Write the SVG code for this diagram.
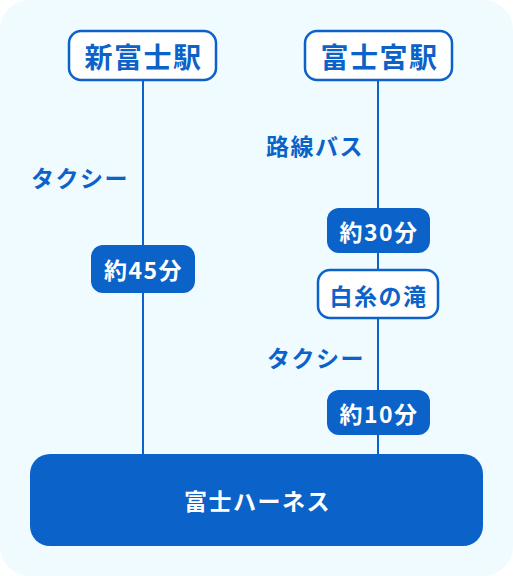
<svg xmlns="http://www.w3.org/2000/svg" width="513" height="576" viewBox="0 0 513 576">
<style>
.t{font-family:"Noto Sans CJK JP","Noto Sans",sans-serif;font-weight:700;text-anchor:middle;dominant-baseline:central}
.st{fill:#fff;stroke:#0b62c8;stroke-width:2.5}
.stt{fill:#0b62c8;font-size:28px;letter-spacing:1.5px}
.pill{fill:#0b62c8}
.pt{fill:#fff;font-size:23px;letter-spacing:1.5px}
.lbl{fill:#0b62c8;font-size:23px;letter-spacing:1.5px}
.ln{stroke:#0b62c8;stroke-width:2;fill:none}
</style>
<rect x="0" y="0" width="513" height="576" rx="30" fill="#f0fbff"/>
<g id="connectors">
<line class="ln" x1="143" y1="80" x2="143" y2="455"/>
<line class="ln" x1="378" y1="80" x2="378" y2="455"/>
</g>
<g id="shin-fuji"><rect class="st" x="69" y="31" width="147" height="49" rx="12"/><text class="t stt" x="143.5" y="56">新富士駅</text></g>
<g id="fujinomiya"><rect class="st" x="305" y="31" width="147" height="49" rx="12"/><text class="t stt" x="379.5" y="56">富士宮駅</text></g>
<g id="label-taxi-left"><text class="t lbl" x="80" y="177">タクシー</text></g>
<g id="pill-45"><rect class="pill" x="91" y="245" width="104" height="48" rx="12"/><text class="t pt" x="143.5" y="269">約45分</text></g>
<g id="label-bus"><text class="t lbl" x="315" y="145">路線バス</text></g>
<g id="pill-30"><rect class="pill" x="327" y="208" width="103" height="45" rx="12"/><text class="t pt" x="379" y="231">約30分</text></g>
<g id="shiraito"><rect class="st" x="318" y="270" width="120" height="48" rx="12"/><text class="t lbl" x="378.5" y="294.5">白糸の滝</text></g>
<g id="label-taxi-right"><text class="t lbl" x="316" y="357">タクシー</text></g>
<g id="pill-10"><rect class="pill" x="327" y="390" width="103" height="45" rx="12"/><text class="t pt" x="379" y="413">約10分</text></g>
<g id="fuji-harness"><rect class="pill" x="30" y="454" width="453" height="92" rx="20"/><text class="t pt" x="257.5" y="500">富士ハーネス</text></g>
</svg>
